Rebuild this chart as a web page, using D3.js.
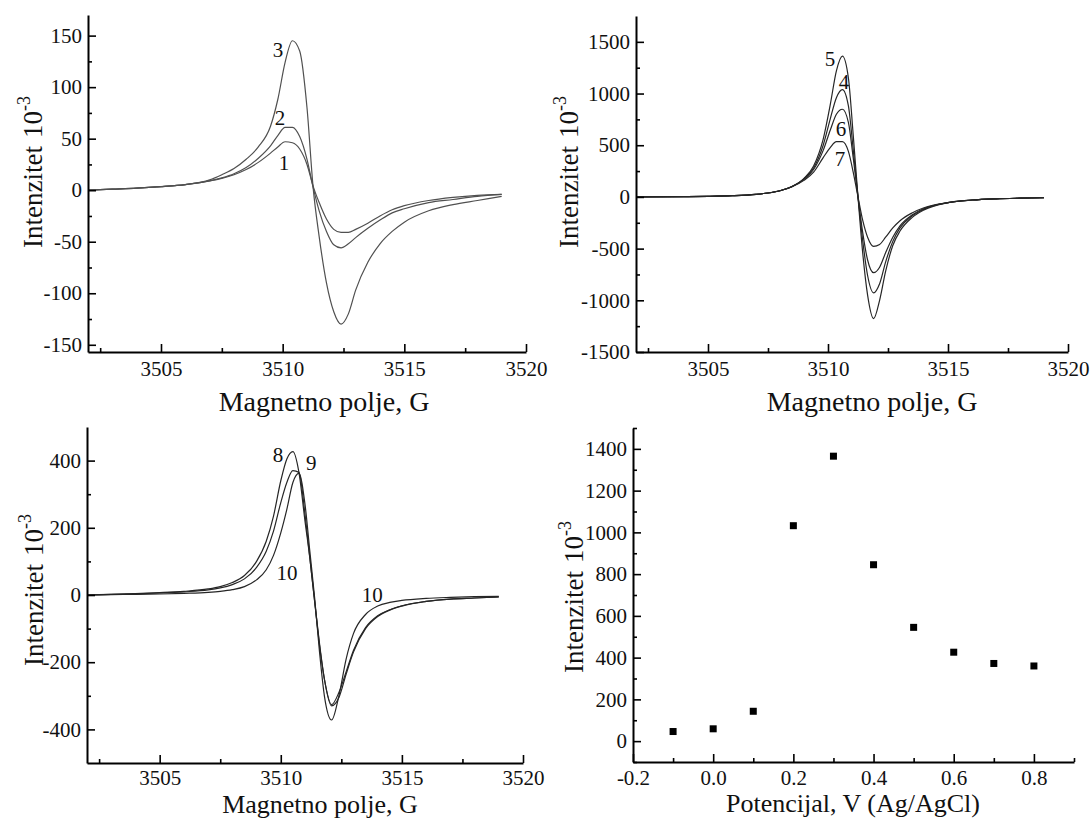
<!DOCTYPE html>
<html>
<head>
<meta charset="utf-8">
<script src="https://d3js.org/d3.v7.min.js"></script>
<style>
  body { margin: 0; background: #fff; }
  svg { display: block; }
  svg text { font-family: "Liberation Serif", "DejaVu Serif", serif; }
</style>
</head>
<body>
<svg id="chart" width="1090" height="819"></svg>
<script>
// --- panel 1: spectra 1-3
const field1 = [3502, 3503, 3504, 3505, 3506, 3507, 3507.5, 3508, 3508.5, 3509, 3509.5, 3509.8, 3510.1, 3510.4, 3510.7, 3511.0, 3511.25, 3511.5, 3511.8, 3512.1, 3512.4, 3512.7, 3513.0, 3513.5, 3514, 3514.5, 3515, 3516, 3517, 3518, 3519];
const spec1 = [0, 1, 2, 3.5, 5.5, 9, 11.5, 15, 20, 27, 36, 42, 47, 46, 40, 25, 4, -12, -28, -38, -41, -41, -38, -32, -25, -19, -15, -10, -7, -5, -4];
const spec2 = [0, 1, 2, 3.5, 5.5, 9, 12, 16, 22, 31, 43, 53, 61, 61, 52, 30, 3, -20, -40, -53, -56, -52, -46, -37, -29, -22, -18, -12, -9, -6, -4];
const spec3 = [0, 1, 2, 3.5, 5.5, 10, 15, 21, 30, 42, 62, 88, 124, 145, 135, 80, 3, -45, -90, -118, -130, -120, -97, -70, -52, -40, -31, -20, -14, -10, -6];

// --- panel 2: spectra 4-7
const field2 = [3502, 3504, 3505, 3506, 3507, 3507.5, 3508, 3508.5, 3509, 3509.4, 3509.8, 3510.1, 3510.35, 3510.6, 3510.85, 3511.05, 3511.25, 3511.45, 3511.65, 3511.9, 3512.15, 3512.4, 3512.7, 3513, 3513.5, 3514, 3515, 3516, 3517, 3518, 3519];
const spec4 = [0, 3, 6, 12, 25, 38, 60, 100, 175, 280, 500, 760, 960, 1038, 880, 460, 0, -430, -760, -928, -840, -630, -430, -300, -185, -118, -55, -30, -18, -12, -8];
const spec5 = [0, 3, 6, 12, 25, 38, 60, 100, 180, 300, 560, 900, 1220, 1362, 1150, 600, 0, -550, -950, -1177, -1000, -720, -470, -330, -200, -125, -55, -30, -18, -12, -8];
const spec6 = [0, 3, 6, 12, 25, 38, 60, 100, 170, 265, 450, 650, 800, 848, 720, 380, 0, -350, -610, -733, -680, -540, -390, -280, -175, -112, -55, -30, -18, -12, -8];
const spec7 = [0, 3, 6, 12, 25, 38, 60, 98, 160, 240, 380, 480, 535, 535, 440, 240, 0, -230, -390, -478, -460, -390, -300, -230, -155, -105, -55, -30, -18, -12, -8];

// --- panel 3: spectra 8-10
const field3 = [3502, 3503, 3504, 3505, 3506, 3507, 3507.5, 3508, 3508.5, 3509, 3509.4, 3509.7, 3510, 3510.25, 3510.5, 3510.75, 3511, 3511.2, 3511.4, 3511.6, 3511.8, 3512.1, 3512.4, 3512.7, 3513, 3513.5, 3514, 3514.5, 3515, 3516, 3517, 3518, 3519];
const spec8 = [0, 2, 4, 7, 11, 18, 25, 37, 58, 100, 160, 235, 340, 405, 427, 365, 220, 110, -20, -150, -250, -326, -290, -228, -165, -97, -62, -44, -32, -19, -12, -9, -6];
const spec9 = [0, 2, 3.5, 6, 9.5, 15, 21, 31, 48, 82, 130, 190, 275, 335, 370, 365, 240, 110, -20, -145, -250, -330, -305, -235, -170, -100, -64, -45, -33, -19, -12, -9, -6];
const spec10 = [0, 1, 2, 3, 5, 8, 11, 16, 25, 45, 75, 118, 185, 255, 335, 362, 270, 130, -10, -170, -300, -372, -300, -190, -115, -58, -33, -22, -16, -10, -7, -5, -4];

// --- panel 4: peak intensity vs potential
const potential = [-0.1, 0.0, 0.1, 0.2, 0.3, 0.4, 0.5, 0.6, 0.7, 0.8];
const intensity = [46, 59, 143, 1032, 1365, 845, 545, 426, 372, 360];

const svg = d3.select('#chart');
svg.append('rect').attr('width', 1090).attr('height', 819).attr('fill', '#fff');

const FONT = '"Liberation Serif", "DejaVu Serif", serif';

const panels = [
  {
    left: 88, right: 526, top: 15, bottom: 352,
    xDomain: [3502, 3520], yDomain: [-157, 170],
    xMajor: [3505, 3510, 3515, 3520], xMinor: [3502.5, 3507.5, 3512.5, 3517.5],
    yMajor: [-150, -100, -50, 0, 50, 100, 150], yMinor: [-125, -75, -25, 25, 75, 125],
    xFmt: d => String(d), yFmt: d => String(d),
    xPad: 9,
    xTitle: 'Magnetno polje, G', xTitleX: 324, xTitleY: 411, xTitleSize: 28,
    yTitleX: 42, yTitleY: 172,
    lineColor: '#505050',
    series: [
      { x: field1, y: spec1, label: '1', lx: 3510.05, ly: 27 },
      { x: field1, y: spec2, label: '2', lx: 3509.89, ly: 70 },
      { x: field1, y: spec3, label: '3', lx: 3509.81, ly: 136 }
    ]
  },
  {
    left: 636, right: 1068, top: 16, bottom: 352,
    xDomain: [3502, 3520], yDomain: [-1500, 1750],
    xMajor: [3505, 3510, 3515, 3520], xMinor: [3502.5, 3507.5, 3512.5, 3517.5],
    yMajor: [-1500, -1000, -500, 0, 500, 1000, 1500], yMinor: [-1250, -750, -250, 250, 750, 1250],
    xFmt: d => String(d), yFmt: d => String(d),
    xPad: 9,
    xTitle: 'Magnetno polje, G', xTitleX: 872, xTitleY: 411, xTitleSize: 28,
    yTitleX: 578, yTitleY: 172,
    lineColor: '#262626',
    series: [
      { x: field2, y: spec4, label: '4', lx: 3510.67, ly: 1113 },
      { x: field2, y: spec5, label: '5', lx: 3510.08, ly: 1336 },
      { x: field2, y: spec6, label: '6', lx: 3510.54, ly: 658 },
      { x: field2, y: spec7, label: '7', lx: 3510.5, ly: 368 }
    ]
  },
  {
    left: 87, right: 523, top: 427, bottom: 763,
    xDomain: [3502, 3520], yDomain: [-500, 500],
    xMajor: [3505, 3510, 3515, 3520], xMinor: [3502.5, 3507.5, 3512.5, 3517.5],
    yMajor: [-400, -200, 0, 200, 400], yMinor: [-300, -100, 100, 300],
    xFmt: d => String(d), yFmt: d => String(d),
    xPad: 7,
    xTitle: 'Magnetno polje, G', xTitleX: 320, xTitleY: 813, xTitleSize: 26,
    yTitleX: 43, yTitleY: 590,
    lineColor: '#262626',
    series: [
      { x: field3, y: spec8, label: '8', lx: 3509.89, ly: 418 },
      { x: field3, y: spec9, label: '9', lx: 3511.26, ly: 394 },
      { x: field3, y: spec10, label: '10', lx: 3510.26, ly: 66 },
      { x: field3, y: spec10, label: '10', lx: 3513.78, ly: 0, noLine: true }
    ]
  },
  {
    left: 633, right: 1074, top: 428, bottom: 762,
    xDomain: [-0.2, 0.9], yDomain: [-100, 1500],
    xMajor: [-0.2, 0, 0.2, 0.4, 0.6, 0.8], xMinor: [-0.1, 0.1, 0.3, 0.5, 0.7, 0.9],
    yMajor: [0, 200, 400, 600, 800, 1000, 1200, 1400], yMinor: [-100, 100, 300, 500, 700, 900, 1100, 1300, 1500],
    xFmt: d => d.toFixed(1), yFmt: d => String(d),
    xPad: 8,
    xTitle: 'Potencijal, V (Ag/AgCl)', xTitleX: 853, xTitleY: 812, xTitleSize: 26,
    yTitleX: 583, yTitleY: 597,
    scatter: { x: potential, y: intensity }
  }
];

panels.forEach(p => {
  const x = d3.scaleLinear().domain(p.xDomain).range([p.left, p.right]);
  const y = d3.scaleLinear().domain(p.yDomain).range([p.bottom, p.top]);
  const g = svg.append('g');

  // curves
  if (p.series) {
    const line = d3.line().curve(d3.curveMonotoneX);
    p.series.forEach(s => {
      if (!s.noLine) {
        g.append('path')
          .attr('d', line(s.x.map((v, i) => [x(v), y(s.y[i])])))
          .attr('fill', 'none')
          .attr('stroke', p.lineColor)
          .attr('stroke-width', 1.2);
      }
      g.append('text')
        .attr('x', x(s.lx)).attr('y', y(s.ly))
        .attr('text-anchor', 'middle').attr('dy', '0.35em')
        .attr('font-family', FONT)
        .attr('font-size', 21).attr('fill', '#111')
        .text(s.label);
    });
  }

  // scatter
  if (p.scatter) {
    g.selectAll('rect.pt').data(p.scatter.x).enter().append('rect')
      .attr('class', 'pt')
      .attr('x', d => x(d) - 3.5)
      .attr('y', (d, i) => y(p.scatter.y[i]) - 3.5)
      .attr('width', 7).attr('height', 7)
      .attr('fill', '#000');
  }

  // axes: inward ticks, Origin style
  const xAxis = g.append('g').attr('transform', `translate(0,${p.bottom})`)
    .call(d3.axisBottom(x).tickValues(p.xMajor).tickFormat(p.xFmt).tickSize(-8).tickSizeOuter(0).tickPadding(p.xPad));
  g.append('g').attr('transform', `translate(0,${p.bottom})`)
    .call(d3.axisBottom(x).tickValues(p.xMinor).tickFormat('').tickSize(-4).tickSizeOuter(0))
    .select('.domain').remove();
  const yAxis = g.append('g').attr('transform', `translate(${p.left},0)`)
    .call(d3.axisLeft(y).tickValues(p.yMajor).tickFormat(p.yFmt).tickSize(-8).tickSizeOuter(0).tickPadding(6));
  g.append('g').attr('transform', `translate(${p.left},0)`)
    .call(d3.axisLeft(y).tickValues(p.yMinor).tickFormat('').tickSize(-4).tickSizeOuter(0))
    .select('.domain').remove();

  g.selectAll('.domain').attr('stroke', '#000').attr('stroke-width', 2);
  g.selectAll('.tick line').attr('stroke', '#000').attr('stroke-width', 1.6);
  [xAxis, yAxis].forEach(a => {
    a.attr('font-family', FONT);
    a.selectAll('text').attr('font-family', FONT).attr('font-size', 21).attr('fill', '#111');
  });

  // titles
  g.append('text')
    .attr('x', p.xTitleX).attr('y', p.xTitleY)
    .attr('text-anchor', 'middle').attr('font-family', FONT)
    .attr('font-size', p.xTitleSize).attr('fill', '#111')
    .text(p.xTitle);

  const yt = g.append('text')
    .attr('transform', `translate(${p.yTitleX},${p.yTitleY}) rotate(-90)`)
    .attr('text-anchor', 'middle').attr('font-family', FONT)
    .attr('font-size', 27).attr('fill', '#111');
  yt.append('tspan').text('Intenzitet');
  yt.append('tspan').attr('dx', 8).text('10');
  yt.append('tspan').attr('dy', -12).attr('font-size', 18).text('-3');
});
</script>
</body>
</html>
